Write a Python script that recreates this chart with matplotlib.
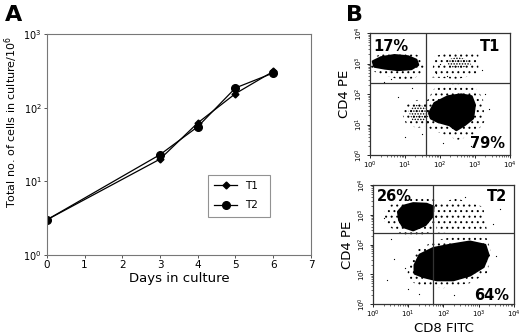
import numpy as np
import matplotlib
matplotlib.use("Agg")
import matplotlib.pyplot as plt
from matplotlib.ticker import LogLocator, NullFormatter, FixedLocator

# ---------------- Panel A data ----------------
days = [0, 3, 4, 5, 6]
t1_cells = [3, 20, 62, 155, 310]
t2_cells = [3, 23, 55, 185, 295]
series_labels = ["T1", "T2"]

# ---------------- Panel B data (log10 decades, traced outlines) ----------------
# T1
t1_ul_core = [(0.09, 3.07), (0.32, 3.20), (0.70, 3.27), (1.09, 3.23), (1.32, 3.12), (1.37, 2.96),
              (1.18, 2.83), (0.80, 2.80), (0.42, 2.85), (0.13, 2.91)]
t1_ul_halo = [(0.02, 3.18), (0.51, 3.40), (1.18, 3.40), (1.51, 3.18), (1.56, 2.80), (1.28, 2.52),
              (0.90, 2.47), (0.32, 2.63), (0.02, 2.80)]
t1_ur_clus = [(2.18, 3.12), (2.51, 3.23), (2.80, 3.12), (2.90, 2.96), (2.61, 2.85), (2.28, 2.87)]
t1_ur_halo = [(1.75, 2.55), (1.85, 3.25), (2.5, 3.42), (3.1, 3.3), (3.1, 2.65), (2.5, 2.5)]
t1_lr_core = [(1.70, 1.38), (1.85, 1.70), (2.23, 1.92), (2.61, 1.98), (2.90, 1.92), (2.99, 1.65),
              (2.94, 1.21), (2.70, 0.99), (2.47, 0.83), (2.28, 0.99), (1.94, 1.10), (1.75, 1.21)]
t1_lr_halo = [(1.56, 1.65), (1.85, 2.20), (2.42, 2.33), (2.99, 2.25), (3.23, 1.87), (3.28, 1.10),
              (2.99, 0.67), (2.51, 0.50), (2.13, 0.67), (1.66, 0.89)]
t1_ll_clus = [(1.1, 1.45), (1.3, 1.65), (1.6, 1.6), (1.7, 1.3), (1.5, 1.1), (1.2, 1.15)]
t1_ll_halo = [(0.90, 1.43), (1.09, 1.70), (1.37, 1.81), (1.70, 1.65), (1.70, 0.99), (1.37, 0.89),
              (1.04, 0.99)]
t1_dots_x = [0.4, 0.6, 1.9, 2.0, 2.2, 3.2, 3.4, 1.2, 0.8, 2.1, 1.5, 3.3, 2.9, 1.0]
t1_dots_y = [2.4, 2.5, 2.7, 3.0, 2.6, 2.8, 1.5, 2.2, 1.9, 0.4, 0.7, 2.0, 0.3, 0.6]
t1_gate_x, t1_gate_y = 1.61, 2.36

# T2
t2_ul_core = [(0.72, 3.10), (0.86, 3.29), (1.14, 3.38), (1.52, 3.36), (1.71, 3.27), (1.67, 2.93),
              (1.48, 2.66), (1.14, 2.49), (0.86, 2.60), (0.75, 2.82)]
t2_ul_halo = [(0.34, 3.16), (0.67, 3.50), (1.24, 3.61), (1.81, 3.50), (1.85, 2.93), (1.62, 2.38),
              (1.05, 2.21), (0.58, 2.49), (0.29, 2.82)]
t2_ur_halo = [(1.76, 3.38), (2.37, 3.55), (3.13, 3.27), (3.23, 2.49), (1.81, 2.40)]
t2_lr_core = [(1.19, 1.31), (1.33, 1.65), (1.71, 1.87), (2.18, 1.98), (2.75, 2.09), (3.18, 1.98),
              (3.27, 1.65), (3.13, 1.25), (2.75, 0.97), (2.28, 0.81), (1.81, 0.81), (1.43, 0.92),
              (1.19, 1.03)]
t2_lr_halo = [(1.00, 1.25), (1.24, 1.82), (1.81, 2.15), (2.56, 2.32), (3.23, 2.21), (3.37, 1.70),
              (3.23, 1.03), (2.75, 0.70), (1.99, 0.53), (1.43, 0.58), (0.96, 0.81)]
t2_dots_x = [0.2, 0.5, 0.3, 1.0, 3.6, 3.5, 0.6, 0.9, 2.3, 3.0, 1.3, 0.4, 3.4, 2.6]
t2_dots_y = [3.5, 2.2, 2.9, 0.5, 3.2, 1.6, 1.5, 1.2, 0.3, 0.4, 0.35, 0.8, 2.7, 3.6]
t2_gate_x, t2_gate_y = 1.71, 2.38

matplotlib.rcParams["hatch.linewidth"] = 0.7

fig = plt.figure(figsize=(5.2, 3.35), dpi=100)
fig.patch.set_facecolor("white")

# ---------------- Panel A ----------------
axA = fig.add_axes([0.09, 0.2388, 0.508, 0.66])
axA.plot(days, t1_cells, color="black", lw=0.9, marker="D", ms=3.5, label=series_labels[0])
axA.plot(days, t2_cells, color="black", lw=0.9, marker="o", ms=5.5, label=series_labels[1])
axA.set_yscale("log")
axA.set_ylim(1, 1000)
axA.set_xlim(0, 7)
axA.set_xticks(range(0, 8))
axA.yaxis.set_major_locator(FixedLocator([1, 10, 100, 1000]))
axA.yaxis.set_minor_locator(FixedLocator([]))
axA.tick_params(labelsize=7.5, length=2.5, width=0.7, color="#555555", pad=1.2)
axA.tick_params(axis="y", labelsize=7)
for s in axA.spines.values():
    s.set_color("#777777")
    s.set_linewidth(0.8)
axA.set_xlabel("Days in culture", fontsize=9.5, labelpad=1)
axA.set_ylabel("Total no. of cells in culture/10$^6$", fontsize=8)
axA.yaxis.set_label_coords(-0.1, 0.6)
leg = axA.legend(loc="lower left", bbox_to_anchor=(0.59, 0.15, 0.275, 0.185), mode="expand",
                 fontsize=7.5, frameon=True, fancybox=False, handlelength=2.2,
                 borderpad=0.6, labelspacing=0.9, edgecolor="#777777")
leg.get_frame().set_linewidth(0.8)

fig.text(0.01, 0.985, "A", fontsize=16, fontweight="bold", va="top", ha="left")
fig.text(0.665, 0.985, "B", fontsize=16, fontweight="bold", va="top", ha="left")


def flow_panel(ax, regions, dots_x, dots_y, gx, gy, labels):
    ax.set_xscale("log")
    ax.set_yscale("log")
    ax.set_xlim(1, 1e4)
    ax.set_ylim(1, 1e4)
    for poly, style in regions:
        arr = np.array(poly)
        xs, ys = 10 ** arr[:, 0], 10 ** arr[:, 1]
        if style == "core":
            ax.fill(xs, ys, facecolor="black", edgecolor="black", lw=2.0, joinstyle="round",
                    zorder=3)
        elif style == "mid":
            ax.fill(xs, ys, facecolor="none", edgecolor="black", lw=0, hatch="......", zorder=2)
        else:
            ax.fill(xs, ys, facecolor="none", edgecolor="black", lw=0, hatch="...", zorder=1)
    ax.scatter(10 ** np.array(dots_x), 10 ** np.array(dots_y), s=0.8, color="black", lw=0, zorder=2)
    ax.axvline(10 ** gx, color="#333333", lw=0.9, zorder=4)
    ax.axhline(10 ** gy, color="#333333", lw=0.9, zorder=4)
    ax.xaxis.set_major_locator(LogLocator(base=10, numticks=10))
    ax.yaxis.set_major_locator(LogLocator(base=10, numticks=10))
    ax.xaxis.set_minor_locator(LogLocator(base=10, subs=np.arange(2, 10), numticks=10))
    ax.yaxis.set_minor_locator(LogLocator(base=10, subs=np.arange(2, 10), numticks=10))
    ax.xaxis.set_minor_formatter(NullFormatter())
    ax.yaxis.set_minor_formatter(NullFormatter())
    ax.tick_params(which="major", labelsize=5, length=2.5, width=0.6, pad=1)
    ax.tick_params(which="minor", length=1.3, width=0.4)
    for lab in ax.get_yticklabels():
        lab.set_rotation(90)
        lab.set_va("center")
    for s in ax.spines.values():
        s.set_color("#333333")
        s.set_linewidth(0.9)
    for txt, x, y in labels:
        ax.text(10 ** x, 10 ** y, txt, fontsize=10.5, fontweight="bold", ha="center", va="center",
                zorder=5)


axB1 = fig.add_axes([0.7115, 0.537, 0.269, 0.364])
flow_panel(axB1,
           [(t1_ul_halo, "halo"), (t1_ur_halo, "halo"), (t1_lr_halo, "halo"), (t1_ll_halo, "halo"),
            (t1_ur_clus, "mid"), (t1_ll_clus, "mid"), (t1_ul_core, "core"), (t1_lr_core, "core")],
           t1_dots_x, t1_dots_y, t1_gate_x, t1_gate_y,
           [("17%", 0.6, 3.57), ("T1", 3.42, 3.56), ("79%", 3.37, 0.39)])
axB1.set_ylabel("CD4 PE", fontsize=9.5, labelpad=2)

axB2 = fig.add_axes([0.7173, 0.0925, 0.271, 0.355])
flow_panel(axB2,
           [(t2_ul_halo, "halo"), (t2_ur_halo, "halo"), (t2_lr_halo, "halo"),
            (t2_ul_core, "core"), (t2_lr_core, "core")],
           t2_dots_x, t2_dots_y, t2_gate_x, t2_gate_y,
           [("26%", 0.62, 3.61), ("T2", 3.51, 3.61), ("64%", 3.37, 0.30)])
axB2.set_ylabel("CD4 PE", fontsize=9.5, labelpad=2)
axB2.set_xlabel("CD8 FITC", fontsize=9.5, labelpad=1)

fig.savefig("out.png", dpi=100, facecolor="white")
